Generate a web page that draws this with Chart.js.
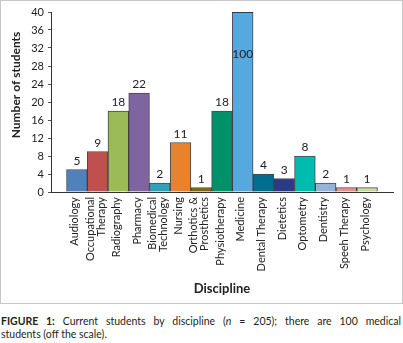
<!DOCTYPE html>
<html>
<head>
<meta charset="utf-8">
<script src="https://cdn.jsdelivr.net/npm/chart.js@4/dist/chart.umd.min.js"></script>
<style>
  body { margin: 0; background: #fff; }
  #box { position: absolute; left: 0; top: 0; width: 401px; height: 302px; border: 1px solid #c6c6c6; }
  #caption { position: absolute; left: 1px; top: 315px; width: 400px; font: 10.5px Lato, sans-serif; line-height: 12.5px; color: #231f20; }
  #caption .l1 { text-align: justify; text-align-last: justify; }
</style>
</head>
<body>
<div id="box"><canvas id="chart" width="401" height="302"></canvas></div>
<div id="caption">
  <div class="l1"><b>FIGURE 1:</b> Current students by discipline (<i>n</i> = 205); there are 100 medical</div>
  <div>students (off the scale).</div>
</div>
<script>
// data
const categories = [
  "Audiology", ["Occupational", "Therapy"], "Radiography", "Pharmacy",
  ["Biomedical", "Technology"], "Nursing", ["Orthotics &", "Prosthetics"],
  "Physiotherapy", "Medicine", "Dental Therapy", "Dietetics", "Optometry",
  "Dentistry", "Speeh Therapy", "Psychology"
];
const counts = [5, 9, 18, 22, 2, 11, 1, 18, 100, 4, 3, 8, 2, 1, 1];
const barColors = [
  "#4f81bd", "#c0504d", "#9bbb59", "#8064a2", "#31a0b8", "#e8822e", "#7f6414",
  "#00916a", "#55a8e0", "#006e8f", "#2b3a86", "#00bcb0", "#94b2da", "#e4918a", "#c4d89b"
];
const yMin = 0;
const yMax = 40;
const yStep = 2;   // minor tick marks
const yLabelStep = 4;

const FONT = "Lato, 'Liberation Sans', sans-serif";

// --------------------
// value labels, x labels, y title
// --------------------
const extras = {
  id: "extras",
  afterDatasetsDraw(chart) {
    const { ctx, chartArea, scales } = chart;
    const meta = chart.getDatasetMeta(0);
    ctx.save();
    ctx.font = "12px " + FONT;
    ctx.fillStyle = "#222";
    ctx.textAlign = "center";
    meta.data.forEach((bar, i) => {
      if (counts[i] > yMax) {
        // off the scale: close the bar at the top and put the number inside
        ctx.strokeStyle = "rgba(40,40,40,0.85)";
        ctx.lineWidth = 1;
        ctx.beginPath();
        ctx.moveTo(bar.x - bar.width / 2, Math.round(chartArea.top) + 0.5);
        ctx.lineTo(bar.x + bar.width / 2, Math.round(chartArea.top) + 0.5);
        ctx.stroke();
        ctx.textBaseline = "middle";
        ctx.fillText(counts[i], bar.x, chartArea.top + 42);
      } else {
        ctx.textBaseline = "alphabetic";
        ctx.fillText(counts[i], bar.x, scales.y.getPixelForValue(counts[i]) - 5);
      }
    });

    // rotated category labels, lines centred on the bar
    ctx.font = "11px " + FONT;
    ctx.textAlign = "right";
    ctx.textBaseline = "middle";
    categories.forEach((c, i) => {
      const lines = Array.isArray(c) ? c : [c];
      const x = scales.x.getPixelForValue(i) - 2;
      lines.forEach((line, j) => {
        ctx.save();
        ctx.translate(x + (j - (lines.length - 1) / 2) * 11, chartArea.bottom + 5);
        ctx.rotate(-Math.PI / 2);
        ctx.fillText(line, 0, 0);
        ctx.restore();
      });
    });

    // y axis title
    ctx.font = "bold 12px " + FONT;
    ctx.textAlign = "center";
    ctx.translate(15, 84);
    ctx.rotate(-Math.PI / 2);
    ctx.fillText("Number of students", 0, 0);
    ctx.restore();
  }
};

const ctx = document.getElementById("chart").getContext("2d");
const chart = new Chart(ctx, {
  type: "bar",
  data: {
    datasets: [{
      data: counts.map((v, i) => ({ x: i, y: v })),
      backgroundColor: barColors,
      borderColor: "rgba(40,40,40,0.85)",
      borderWidth: 1,
      barPercentage: 1,
      categoryPercentage: 1
    }]
  },
  options: {
    responsive: false,
    animation: false,
    devicePixelRatio: 1,
    layout: { padding: { top: 11, right: 9, left: 0, bottom: 0 } },
    plugins: { legend: { display: false }, tooltip: { enabled: false } },
    scales: {
      x: {
        type: "linear",
        offset: false,
        min: -1.25,
        max: categories.length - 1 + 1.25,
        afterBuildTicks: (axis) => { axis.ticks = categories.map((c, i) => ({ value: i })); },
        afterFit: (axis) => { axis.height = 111; },
        grid: { display: false, drawTicks: false },
        border: { display: true, color: "#333", width: 1 },
        ticks: { display: false },
        title: {
          display: true,
          text: "Discipline",
          color: "#222",
          font: { family: FONT, size: 13, weight: "bold" },
          padding: { top: 0, bottom: 6 }
        }
      },
      y: {
        min: yMin,
        max: yMax,
        afterFit: (axis) => { axis.width = 50; },
        grid: { drawOnChartArea: false, drawTicks: true, tickLength: 3, color: "#555" },
        border: { display: true, color: "#333", width: 1 },
        ticks: {
          stepSize: yStep,
          padding: 4,
          color: "#222",
          font: { family: FONT, size: 11 },
          callback: (v) => (v % yLabelStep === 0 ? v : "")
        }
      }
    }
  },
  plugins: [extras]
});
</script>
</body>
</html>
